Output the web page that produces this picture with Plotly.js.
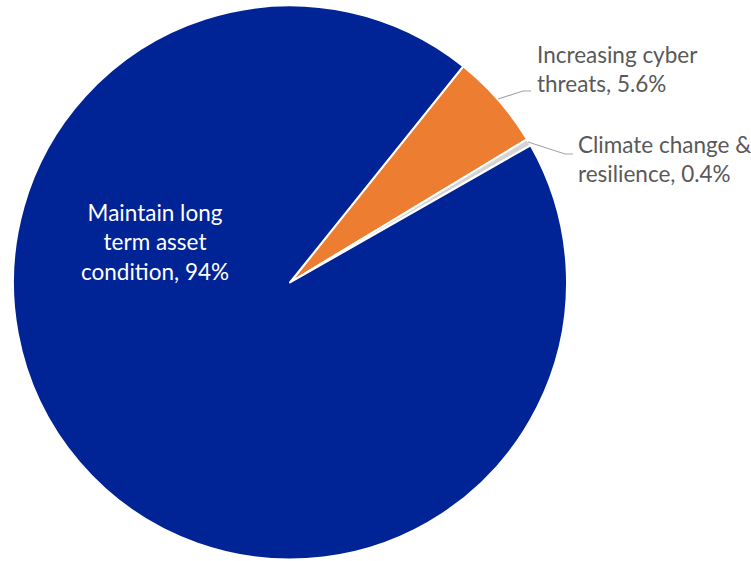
<!DOCTYPE html>
<html>
<head>
<meta charset="utf-8">
<script src="https://cdn.plot.ly/plotly-3.0.1.min.js"></script>
<style>
  html, body { margin: 0; padding: 0; background: #ffffff; }
  #chart { width: 751px; height: 561px; }
</style>
</head>
<body>
<div id="chart"></div>
<script>
// Risk categories and their share of the programme
const categories = ['Increasing cyber threats', 'Climate change & resilience', 'Maintain long term asset condition'];
const labelLines = [['Increasing cyber', 'threats'], ['Climate change &', 'resilience'], ['Maintain long', 'term asset', 'condition']];
const shares = [5.6, 0.4, 94];
const shareText = ['5.6%', '0.4%', '94%'];
const sliceColors = ['#ED7D31', '#D4D4D4', '#002395'];

const W = 751, H = 561;
const px = x => x / W;
const py = y => 1 - y / H;

const pie = {
  type: 'pie',
  labels: categories,
  values: shares,
  sort: false,
  direction: 'clockwise',
  rotation: 38.7,
  textinfo: 'none',
  hoverinfo: 'label+percent',
  marker: { colors: sliceColors, line: { color: '#ffffff', width: 2 } },
  domain: { x: [px(13), px(567)], y: [py(559.5), py(5.5)] },
  showlegend: false
};

// Label text: category plus its share
function labelText(i) {
  const lines = labelLines[i].slice();
  lines[lines.length - 1] += ', ' + shareText[i];
  return lines.join('<br>');
}

const font = { family: 'Lato, "Open Sans", sans-serif', size: 22.5 };

const annotations = [
  { x: px(535), y: py(69), xanchor: 'left', yanchor: 'middle', align: 'left',
    text: labelText(0), font: Object.assign({ color: '#595959' }, font) },
  { x: px(576), y: py(159), xanchor: 'left', yanchor: 'middle', align: 'left',
    text: labelText(1), font: Object.assign({ color: '#595959' }, font) },
  { x: px(155), y: py(242), xanchor: 'center', yanchor: 'middle', align: 'center',
    text: labelText(2), font: Object.assign({ color: '#ffffff' }, font) }
].map(a => Object.assign({ xref: 'paper', yref: 'paper', showarrow: false }, a));

// Leader lines from the small slices out to their labels
const leader = { type: 'path', xref: 'paper', yref: 'paper', line: { color: '#A6A6A6', width: 1.2 } };
const shapes = [
  Object.assign({}, leader, {
    path: `M ${px(498)} ${py(99)} L ${px(523)} ${py(91)} L ${px(531)} ${py(91)}`
  }),
  Object.assign({}, leader, {
    path: `M ${px(528)} ${py(142)} L ${px(565)} ${py(154)} L ${px(573)} ${py(154)}`
  })
];

const layout = {
  width: W, height: H,
  margin: { l: 0, r: 0, t: 0, b: 0 },
  paper_bgcolor: '#ffffff',
  plot_bgcolor: '#ffffff',
  annotations: annotations,
  shapes: shapes
};

Plotly.newPlot('chart', [pie], layout, { displayModeBar: false, staticPlot: true });
</script>
</body>
</html>
